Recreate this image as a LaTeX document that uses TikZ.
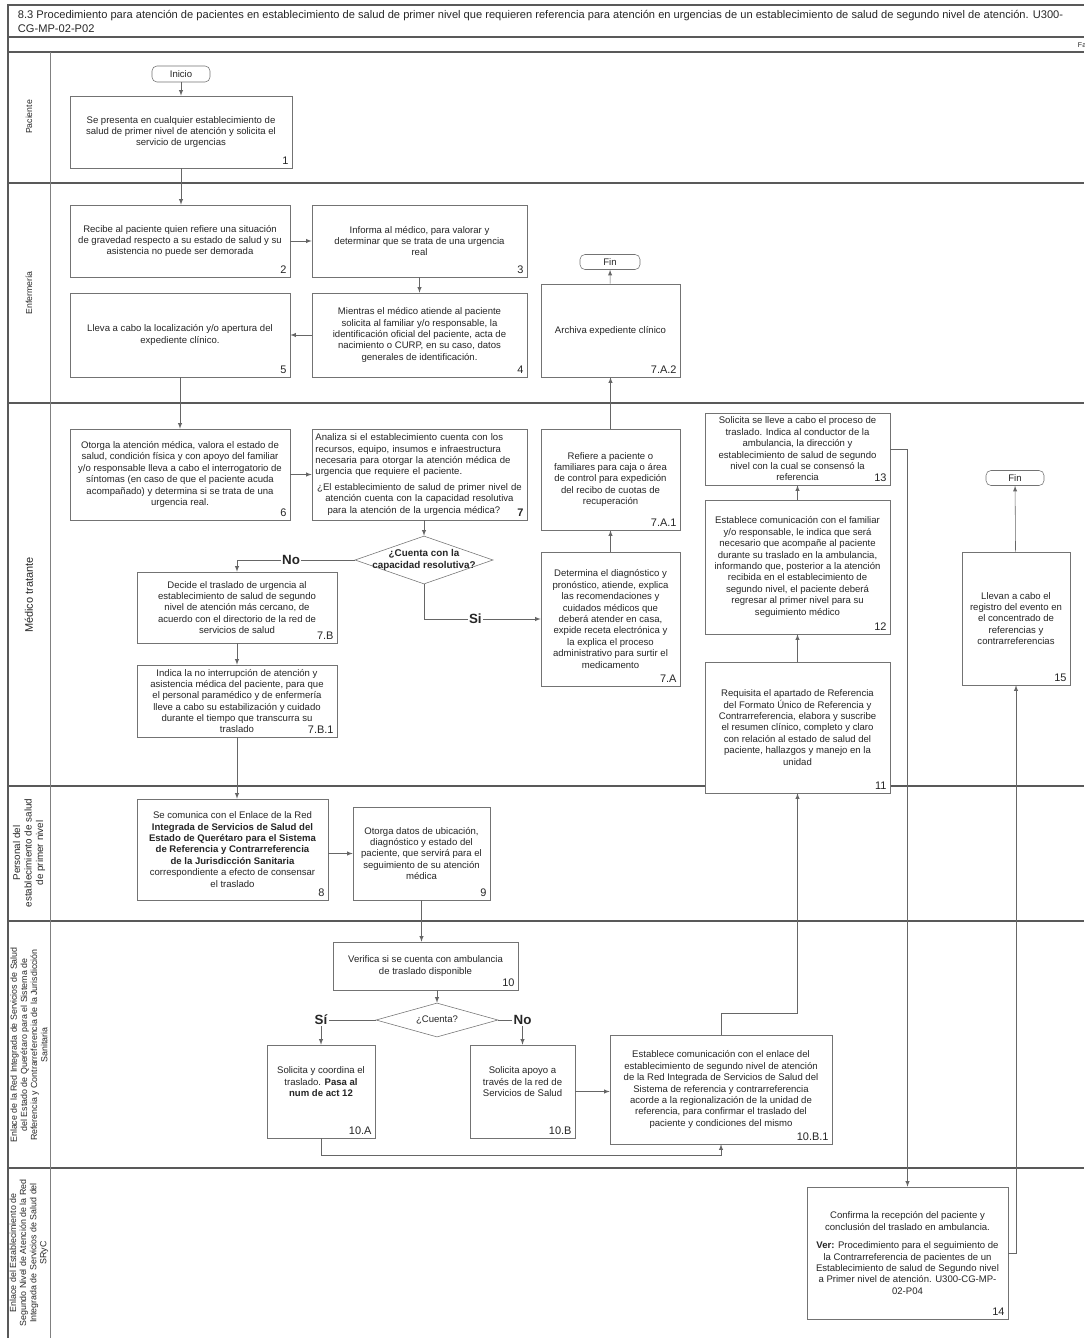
\documentclass[tikz,border=0pt]{standalone}
\usepackage{fontspec}
\setmainfont{Liberation Sans}
\usetikzlibrary{arrows,shapes}

\begin{document}
\begin{tikzpicture}[x=0.025cm,y=-0.025cm]

\tikzstyle{every node}=[font=\fontsize{6.8}{8.1}\selectfont, text=black!85]
\tikzstyle{caja}=[draw=black!55, fill=white, align=center, inner sep=1.5pt]
\tikzstyle{term}=[draw=black!55, fill=white, rounded corners=3.5pt, inner sep=1pt]
\tikzstyle{rombo}=[draw=black!55, fill=white, diamond, inner sep=-14pt, align=center]
\tikzstyle{num}=[anchor=south east, inner sep=2.5pt, font=\fontsize{7.8}{8}\selectfont]
\tikzstyle{flecha}=[draw=black!60, -latex]
\tikzstyle{carril}=[draw=black!65, line width=0.8pt]
\tikzstyle{rotulo}=[rotate=90, align=center, font=\fontsize{6.3}{7.2}\selectfont]
\tikzstyle{resp}=[font=\fontsize{9.5}{10}\selectfont\bfseries, fill=white, inner sep=1pt]

\useasboundingbox (0,0) rectangle (1084,1338);

% marco y carriles
\draw[carril] (8,1338) -- (8,5) -- (1084,5);
\draw[carril] (8,37) -- (1084,37);
\draw[carril] (8,52) -- (1084,52);
\foreach \y in {183,403,786,921,1168}
  \draw[carril] (8,\y) -- (1084,\y);
\draw[draw=black!50] (50,52) -- (50,1338);

\node[anchor=north west, align=left, font=\fontsize{7.9}{9.6}\selectfont] (titulo) at (13,5.5) {8.3 Procedimiento para atención de pacientes en establecimiento de salud de primer nivel que requieren referencia para atención en urgencias de un establecimiento de salud de segundo nivel de atención. U300-\\CG-MP-02-P02};
\node[anchor=west, font=\fontsize{5}{6}\selectfont] (fase) at (1073,45) {Fa};

\node[rotulo, font=\fontsize{6.2}{7}\selectfont] (lpac) at (29,117) {Paciente};
\node[rotulo, font=\fontsize{6.2}{7}\selectfont] (lenf) at (29,293) {Enfermería};
\node[rotulo, font=\fontsize{7.8}{9}\selectfont] (lmed) at (29,595) {Médico tratante};
\node[rotulo, font=\fontsize{7}{8.2}\selectfont] (lper) at (29,853) {Personal del\\establecimiento de salud\\de primer nivel};
\node[rotulo] (lred) at (29,1045) {Enlace de la Red Integrada de Servicios de Salud\\del Estado de Querétaro para el Sistema de\\Referencia y Contrarreferencia de la Jurisdicción\\Sanitaria};
\node[rotulo] (lseg) at (29,1253) {Enlace del Establecimiento de\\Segundo Nivel de Atención de la Red\\Integrada de Servicios de Salud del\\SRyC};

% Paciente
\node[term, minimum width=1.45cm, minimum height=0.4cm] (inicio) at (181,74) {Inicio};
\node[caja, minimum width=5.55cm, minimum height=1.8cm] (b1) at (181,132) {Se presenta en cualquier establecimiento de\\salud de primer nivel de atención y solicita el\\servicio de urgencias};
\node[num] (n1) at (b1.south east) {1};

% Enfermeria
\node[caja, minimum width=5.5cm, minimum height=1.8cm] (b2) at (180,241) {Recibe al paciente quien refiere una situación\\de gravedad respecto a su estado de salud y su\\asistencia no puede ser demorada};
\node[num] (n2) at (b2.south east) {2};
\node[caja, minimum width=5.375cm, minimum height=1.8cm] (b3) at (419.5,241) {Informa al médico, para valorar y\\determinar que se trata de una urgencia\\real};
\node[num] (n3) at (b3.south east) {3};
\node[caja, minimum width=5.375cm, minimum height=2.1cm] (b4) at (419.5,335) {Mientras el médico atiende al paciente\\solicita al familiar y/o responsable, la\\identificación oficial del paciente, acta de\\nacimiento o CURP, en su caso, datos\\generales de identificación.};
\node[num] (n4) at (b4.south east) {4};
\node[caja, minimum width=5.5cm, minimum height=2.1cm] (b5) at (180,335) {Lleva a cabo la localización y/o apertura del\\expediente clínico.};
\node[num] (n5) at (b5.south east) {5};
\node[term, minimum width=1.5cm, minimum height=0.375cm] (fin1) at (610,262) {Fin};
\node[caja, minimum width=3.475cm, minimum height=2.325cm] (b7A2) at (610.5,330.5) {Archiva expediente clínico};
\node[num] (n7A2) at (b7A2.south east) {7.A.2};

% Medico tratante
\node[caja, minimum width=5.5cm, minimum height=2.275cm] (b6) at (180,474.5) {Otorga la atención médica, valora el estado de\\salud, condición física y con apoyo del familiar\\y/o responsable lleva a cabo el interrogatorio de\\síntomas (en caso de que el paciente acuda\\acompañado) y determina si se trata de una\\urgencia real.};
\node[num] (n6) at (b6.south east) {6};
\node[caja, minimum width=5.375cm, minimum height=2.275cm, text width=5.2cm] (b7) at (419.5,474.5) {{\raggedright Analiza si el establecimiento cuenta con los\\recursos, equipo, insumos e infraestructura\\necesaria para otorgar la atención médica de\\urgencia que requiere el paciente.\par}\vspace{3pt}¿El establecimiento de salud de primer nivel de\\atención cuenta con la capacidad resolutiva\\para la atención de la urgencia médica?\hspace{8pt}\mbox{}};
\node[num, font=\fontsize{7.8}{8}\selectfont\bfseries] (n7) at (b7.south east) {7};
\node[rombo, minimum width=3.45cm, minimum height=1.2cm, font=\fontsize{7}{8.4}\selectfont\bfseries] (d7) at (424,560) {¿Cuenta con la\\capacidad resolutiva?};
\node[caja, minimum width=5cm, minimum height=1.775cm] (b7B) at (237,607.5) {Decide el traslado de urgencia al\\establecimiento de salud de segundo\\nivel de atención más cercano, de\\acuerdo con el directorio de la red de\\servicios de salud};
\node[num] (n7B) at (b7B.south east) {7.B};
\node[caja, minimum width=5cm, minimum height=1.8cm] (b7B1) at (237,701) {Indica la no interrupción de atención y\\asistencia médica del paciente, para que\\el personal paramédico y de enfermería\\lleve a cabo su estabilización y cuidado\\durante el tiempo que transcurra su\\traslado};
\node[num] (n7B1) at (b7B1.south east) {7.B.1};
\node[caja, minimum width=3.475cm, minimum height=2.525cm] (b7A1) at (610.5,479.5) {Refiere a paciente o\\familiares para caja o área\\de control para expedición\\del recibo de cuotas de\\recuperación};
\node[num] (n7A1) at (b7A1.south east) {7.A.1};
\node[caja, minimum width=3.475cm, minimum height=3.35cm] (b7A) at (610.5,619) {Determina el diagnóstico y\\pronóstico, atiende, explica\\las recomendaciones y\\cuidados médicos que\\deberá atender en casa,\\expide receta electrónica y\\la explica el proceso\\administrativo para surtir el\\medicamento};
\node[num] (n7A) at (b7A.south east) {7.A};
\node[caja, minimum width=4.625cm, minimum height=1.8cm] (b13) at (797.5,449) {Solicita se lleve a cabo el proceso de\\traslado. Indica al conductor de la\\ambulancia, la dirección y\\establecimiento de salud de segundo\\nivel con la cual se consensó la\\referencia};
\node[num] (n13) at (b13.south east) {13};
\node[caja, minimum width=4.625cm, minimum height=3.35cm] (b12) at (797.5,567) {Establece comunicación con el familiar\\y/o responsable, le indica que será\\necesario que acompañe al paciente\\durante su traslado en la ambulancia,\\informando que, posterior a la atención\\recibida en el establecimiento de\\segundo nivel, el paciente deberá\\regresar al primer nivel para su\\seguimiento médico};
\node[num] (n12) at (b12.south east) {12};
\node[caja, minimum width=4.625cm, minimum height=3.275cm] (b11) at (797.5,727.5) {Requisita el apartado de Referencia\\del Formato Único de Referencia y\\Contrarreferencia, elabora y suscribe\\el resumen clínico, completo y claro\\con relación al estado de salud del\\paciente, hallazgos y manejo en la\\unidad};
\node[num] (n11) at (b11.south east) {11};
\node[term, minimum width=1.45cm, minimum height=0.375cm] (fin2) at (1015,478) {Fin};
\node[caja, minimum width=2.7cm, minimum height=3.325cm] (b15) at (1016,618.5) {Llevan a cabo el\\registro del evento en\\el concentrado de\\referencias y\\contrarreferencias};
\node[num] (n15) at (b15.south east) {15};

% Personal del establecimiento
\node[caja, minimum width=4.775cm, minimum height=2.525cm] (b8) at (232.5,849.5) {Se comunica con el Enlace de la Red\\\textbf{Integrada de Servicios de Salud del}\\\textbf{Estado de Querétaro para el Sistema}\\\textbf{de Referencia y Contrarreferencia}\\\textbf{de la Jurisdicción Sanitaria}\\correspondiente a efecto de consensar\\el traslado};
\node[num] (n8) at (b8.south east) {8};
\node[caja, minimum width=3.425cm, minimum height=2.325cm] (b9) at (421.5,853.5) {Otorga datos de ubicación,\\diagnóstico y estado del\\paciente, que servirá para el\\seguimiento de su atención\\médica};
\node[num] (n9) at (b9.south east) {9};

% Enlace de la Red
\node[caja, minimum width=4.625cm, minimum height=1.2cm] (b10) at (425.5,966) {Verifica si se cuenta con ambulancia\\de traslado disponible};
\node[num] (n10) at (b10.south east) {10};
\node[rombo, minimum width=3.05cm, minimum height=0.85cm] (d10) at (437,1020) {¿Cuenta?};
\node[caja, minimum width=2.7cm, minimum height=2.325cm] (b10A) at (321,1091.5) {Solicita y coordina el\\traslado. \textbf{Pasa al}\\\textbf{num de act 12}\\[6pt]\mbox{}};
\node[num] (n10A) at (b10A.south east) {10.A};
\node[caja, minimum width=2.625cm, minimum height=2.325cm] (b10B) at (522.5,1091.5) {Solicita apoyo a\\través de la red de\\Servicios de Salud\\[6pt]\mbox{}};
\node[num] (n10B) at (b10B.south east) {10.B};
\node[caja, minimum width=5.55cm, minimum height=2.725cm] (b10B1) at (721,1089.5) {Establece comunicación con el enlace del\\establecimiento de segundo nivel de atención\\de la Red Integrada de Servicios de Salud del\\Sistema de referencia y contrarreferencia\\acorde a la regionalización de la unidad de\\referencia, para confirmar el traslado del\\paciente y condiciones del mismo};
\node[num] (n10B1) at (b10B1.south east) {10.B.1};

% Enlace del segundo nivel
\node[caja, minimum width=5.025cm, minimum height=3.3cm] (b14) at (907.5,1253) {Confirma la recepción del paciente y\\conclusión del traslado en ambulancia.\\[5pt]\textbf{Ver:} Procedimiento para el seguimiento de\\la Contrarreferencia de pacientes de un\\Establecimiento de salud de Segundo nivel\\a Primer nivel de atención. U300-CG-MP-\\02-P04};
\node[num] (n14) at (b14.south east) {14};

% conectores
\draw[flecha] (inicio) -- (b1);
\draw[flecha] (b1.south) -- (b1.south |- b2.north);
\draw[flecha] (b2) -- (b3);
\draw[flecha] (b3) -- (b4);
\draw[flecha] (b4) -- (b5);
\draw[flecha] (b5.south) -- (b5.south |- b6.north);
\draw[flecha] (b6) -- (b7);
\draw[flecha] (d7.north |- b7.south) -- (d7.north);
\draw[flecha] (d7.west) -| (b7B.north) node[resp, pos=0.27] {No};
\draw[flecha] (d7.south) |- (b7A.west) node[resp, pos=0.72] {Si};
\draw[flecha] (b7A) -- (b7A1);
\draw[flecha] (b7A1) -- (b7A2);
\draw[flecha] (b7A2) -- (fin1);
\draw[flecha] (b7B) -- (b7B1);
\draw[flecha] (b7B1.south) -- (b7B1.south |- b8.north);
\draw[flecha] (b8.east |- b9.west) -- (b9.west);
\draw[flecha] (b9.south) -- (b9.south |- b10.north);
\draw[flecha] (b10.south -| d10.north) -- (d10.north);
\draw[flecha] (d10.west) -| (b10A.north) node[resp, pos=0.5] {Sí};
\draw[flecha] (d10.east) -| (b10B.north) node[resp, pos=0.5] {No};
\draw[flecha] (b10B.east) -- (b10B.east -| b10B1.west);
\draw[flecha] (b10A.south) -- ++(0,17) -| (b10B1.south);
\draw[flecha] (b10B1.north) -- ++(0,-21) -| (b11.south);
\draw[flecha] (b11) -- (b12);
\draw[flecha] (b12) -- (b13);
\draw[flecha] (b13.east) -| (b14.north);
\draw[flecha] (b14.east) -| (b15.south);
\draw[flecha] (b15) -- (fin2);

\end{tikzpicture}
\end{document}
